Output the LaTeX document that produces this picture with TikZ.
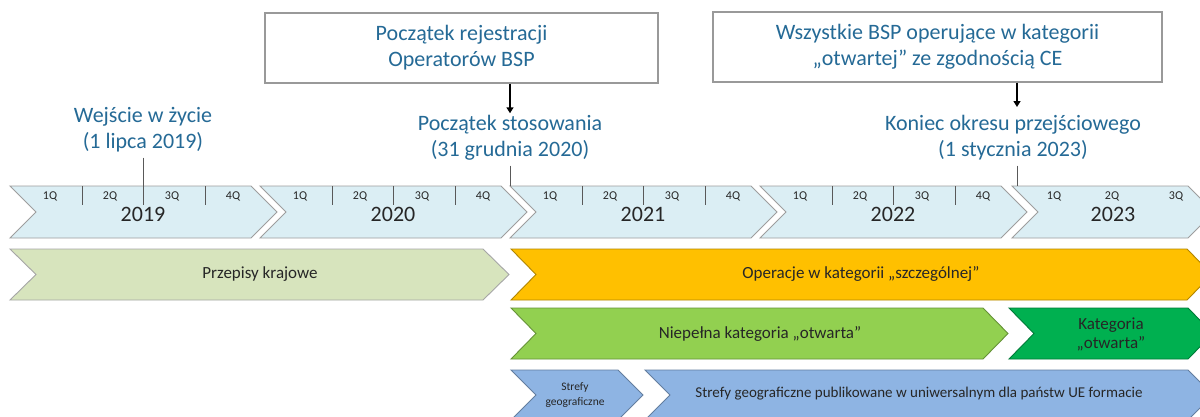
\documentclass[tikz,border=0pt]{standalone}
\usepackage{fontspec}
\setmainfont{Carlito}
\usetikzlibrary{arrows.meta}
\definecolor{evblue}{RGB}{37,106,150}
\definecolor{yearfill}{RGB}{219,238,244}
\definecolor{natfill}{RGB}{215,228,189}
\definecolor{orangefill}{RGB}{255,192,0}
\definecolor{lgreen}{RGB}{146,208,80}
\definecolor{dgreen}{RGB}{0,176,80}
\definecolor{bluefill}{RGB}{142,180,227}
\definecolor{txtdark}{RGB}{38,38,38}
\newcommand{\chevshape}[6]{%
  \filldraw[#1] (#2,#4) -- (#3,#4) -- ({#3+#6},{(#4+#5)/2}) -- (#3,#5) -- (#2,#5) -- ({#2+#6},{(#4+#5)/2}) -- cycle;}
\newcommand{\yearblock}[4]{% L, name, year, year-x offset
  \chevshape{yearst}{#1}{#1+241}{186}{238}{26}
  \node[qlab] (#2q1) at (#1+40,196) {1Q};
  \node[qlab] (#2q2) at (#1+100,196) {2Q};
  \node[qlab] (#2q3) at (#1+162,196) {3Q};
  \node[qlab] (#2q4) at (#1+223,196) {4Q};
  \draw[qdiv] (#1+72,186) -- (#1+72,205);
  \draw[qdiv] (#1+133,186) -- (#1+133,205);
  \draw[qdiv] (#1+195,186) -- (#1+195,205);
  \node[ylab] (#2y) at (#1+#4,214) {#3};}
\begin{document}
\begin{tikzpicture}[x=1pt,y=-1pt,
  yearst/.style={fill=yearfill,draw=black!38,line width=0.9pt},
  natst/.style={fill=natfill,draw=black!35,line width=0.9pt},
  orst/.style={fill=orangefill,draw=orangefill!70!black,line width=0.9pt},
  lgst/.style={fill=lgreen,draw=lgreen!70!black,line width=0.9pt},
  dgst/.style={fill=dgreen,draw=dgreen!70!black,line width=0.9pt},
  blst/.style={fill=bluefill,draw=bluefill!70!black,line width=0.9pt},
  qlab/.style={font=\fontsize{12}{14}\selectfont,text=txtdark,inner sep=0pt},
  qdiv/.style={draw=black!65,line width=0.8pt},
  ylab/.style={font=\fontsize{22}{26}\selectfont,text=txtdark,inner sep=0pt},
  evtext/.style={font=\fontsize{22}{26}\selectfont,text=evblue,align=center,inner sep=2pt},
  evbox/.style={draw=black!40,line width=1.2pt,fill=white,font=\fontsize{22}{26}\selectfont,text=evblue,align=center,inner sep=0pt},
  evline/.style={draw=black!65,line width=0.9pt},
  evarrow/.style={draw=black,line width=1.6pt,-{Triangle[length=6pt,width=7pt]}},
  rowtext/.style={font=\fontsize{17}{19}\selectfont,text=txtdark,align=center,inner sep=0pt},
]
\useasboundingbox (0,0) rectangle (1200,416);
\clip (0,0) rectangle (1200,416);
\fill[white] (0,0) rectangle (1200,416);

% year chevrons
\yearblock{10}{yA}{2019}{133}
\yearblock{260}{yB}{2020}{133}
\yearblock{510}{yC}{2021}{133}
\yearblock{760}{yD}{2022}{133}
\chevshape{yearst}{1012}{1188}{186}{238}{26}
\node[qlab] (yEq1) at (1054,196) {1Q};
\node[qlab] (yEq2) at (1112,196) {2Q};
\node[qlab] (yEq3) at (1176,196) {3Q};
\node[ylab] (yEy) at (1113,214) {2023};

% boxes
\node[evbox,minimum width=393pt,minimum height=70pt] (box1) at (461.5,48) {Początek rejestracji\\Operatorów BSP};
\node[evbox,minimum width=449pt,minimum height=70pt] (box2) at (937.5,47) {Wszystkie BSP operujące w kategorii\\„otwartej” ze zgodnością CE};

% events
\node[evtext] (ev1) at (143,130) {Wejście w życie\\(1 lipca 2019)};
\node[evtext] (ev2) at (510,138) {Początek stosowania\\(31 grudnia 2020)};
\node[evtext] (ev3) at (1013,138) {Koniec okresu przejściowego\\(1 stycznia 2023)};
\coordinate (ev1end) at (143,205);
\coordinate (ev2end) at (510,186);
\coordinate (ev3end) at (1017,186);
\coordinate (ev3top) at (1017,107);
\draw[evline] ([yshift=-3pt]ev1.south) -- (ev1end);
\draw[evline] ([yshift=-3pt]ev2.south) -- (ev2end);
\draw[evline] ([yshift=-3pt]ev3.south -| ev3end) -- (ev3end);
\draw[evarrow] (box1.south -| ev2.north) -- (ev2.north);
\draw[evarrow] (box2.south -| ev3end) -- (ev3top);

% rows
\chevshape{natst}{10}{483}{249}{300}{26}
\node[rowtext] (nat) at (260,274) {Przepisy krajowe};
\chevshape{orst}{511}{1187}{249}{300}{25}
\node[rowtext] (spec) at (861,274) {Operacje w kategorii „szczególnej”};
\chevshape{lgst}{511}{983}{308}{359}{25}
\node[rowtext] (lim) at (760,334) {Niepełna kategoria „otwarta”};
\chevshape{dgst}{1009}{1188}{308}{359}{25}
\node[rowtext] (open) at (1111,334) {Kategoria\\„otwarta”};
\chevshape{blst}{511}{618}{370}{420}{25}
\node[rowtext,font=\fontsize{11.5}{15}\selectfont] (geo1) at (575,395) {Strefy\\geograficzne};
\chevshape{blst}{645}{1188}{370}{420}{25}
\node[rowtext,font=\fontsize{15}{17}\selectfont] (geo2) at (919,394) {Strefy geograficzne publikowane w uniwersalnym dla państw UE formacie};
\end{tikzpicture}
\end{document}
